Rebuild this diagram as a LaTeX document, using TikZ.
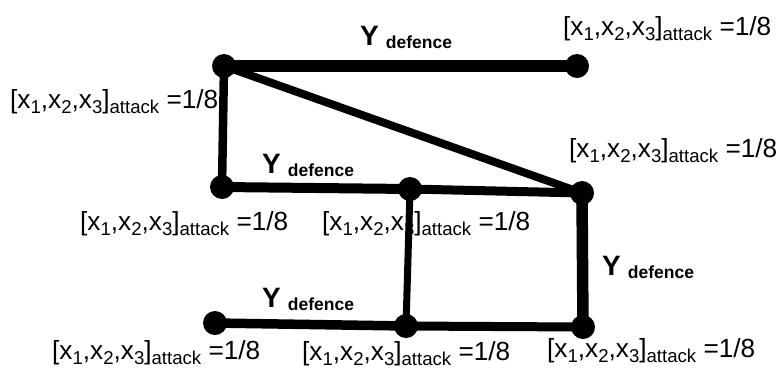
\documentclass[tikz,border=0pt]{standalone}
\usepackage{fontspec}
\setmainfont{Liberation Sans}
% label "[x1,x2,x3]_attack =1/8"
\newcommand{\sublow}[1]{\raisebox{-0.2em}{\fontsize{18.6}{19}\selectfont #1}}
\newcommand{\attacklabel}{{\fontsize{26.2}{27}\selectfont [x\sublow{1},x\sublow{2},x\sublow{3}]\sublow{attack} =1/8}}
% label "Y defence"
\newcommand{\defencelabel}{{\bfseries\fontsize{28}{28}\selectfont Y\hspace{7pt}\raisebox{-0.12em}{\fontsize{17.5}{18}\selectfont defence}}}
\tikzset{
  dot/.style={circle, fill=black, inner sep=0pt, minimum size=24pt},
  link/.style={line width=#1, line cap=butt},
  lbl/.style={inner sep=0pt, anchor=base west},
}
\begin{document}
\begin{tikzpicture}[x=1pt, y=-1pt]
  \useasboundingbox (0,0) rectangle (779,368);
  \fill[white] (0,0) rectangle (779,368);

  % vertices
  \coordinate (A) at (224,66);
  \coordinate (B) at (577,66);
  \coordinate (C) at (222,187);
  \coordinate (D) at (410,189);
  \coordinate (E) at (582,193);
  \coordinate (F) at (215,323);
  \coordinate (G) at (406,326);
  \coordinate (H) at (583,327);

  % edges
  \draw[link=11.5pt] (A) -- (B);
  \draw[link=8.5pt] (A) -- (C);
  \draw[link=8pt] (A) -- (E);
  \draw[link=10pt] (C) -- (D);
  \draw[link=9pt] (D) -- (E);
  \draw[link=7pt] (D) -- (G);
  \draw[link=11.5pt] (E) -- (H);
  \draw[link=9.5pt] (F) -- (G);
  \draw[link=9pt] (G) -- (H);

  % dots
  \foreach \p in {A,B,C,D,E,F,G,H}
    \node[dot] (n\p) at (\p) {};

  % attack-value labels
  \node[lbl] (la) at (563,35) {\attacklabel};
  \node[lbl] (lb) at (10,108) {\attacklabel};
  \node[lbl] (lc) at (569,157) {\attacklabel};
  \node[lbl] (ld) at (80,230) {\attacklabel};
  \node[lbl] (le) at (322,230) {\attacklabel};
  \node[lbl] (lf) at (52,359) {\attacklabel};
  \node[lbl] (lg) at (302,360) {\attacklabel};
  \node[lbl] (lh) at (547,357) {\attacklabel};

  % defence labels
  \node[lbl] (da) at (360,45) {\defencelabel};
  \node[lbl] (db) at (262,173) {\defencelabel};
  \node[lbl] (dc) at (262,307) {\defencelabel};
  \node[lbl] (dd) at (602,275) {\defencelabel};
\end{tikzpicture}
\end{document}
